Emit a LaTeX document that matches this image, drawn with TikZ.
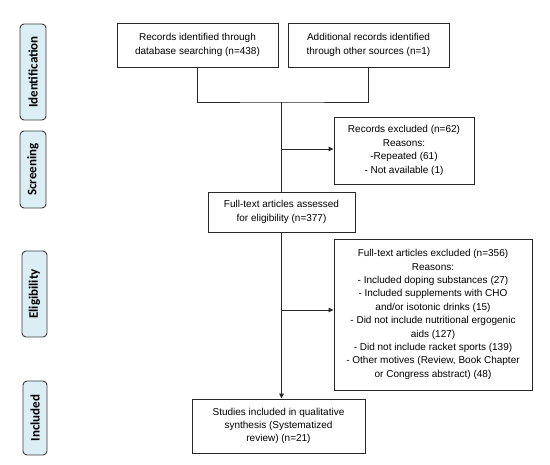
\documentclass[tikz,border=0pt]{standalone}
\usepackage{fontspec}
\setmainfont{Liberation Sans}
\newfontfamily\sidefont{Carlito}
\usetikzlibrary{arrows.meta}
\definecolor{sidefill}{RGB}{218,238,243}
\definecolor{sideline}{RGB}{60,60,60}
\definecolor{boxline}{RGB}{40,40,40}
\tikzset{
  flowbox/.style={draw=boxline, line width=0.9pt, fill=white, align=center, inner sep=2pt,
    font=\fontsize{10}{13.4}\selectfont},
  sidebox/.style={draw=sideline, line width=0.9pt, fill=sidefill, rounded corners=4pt,
    rotate=90, inner sep=0pt, font=\sidefont\bfseries\fontsize{13}{14}\selectfont},
  conn/.style={draw=boxline, line width=0.9pt},
  arr/.style={conn, -{Triangle[length=5pt,width=4.5pt]}}
}
\begin{document}
\begin{tikzpicture}[x=1pt,y=-1pt]
\useasboundingbox (0,0) rectangle (550,465);
% side labels
\node[sidebox, minimum width=96pt, minimum height=26pt] (sid) at (33,72) {Identification};
\node[sidebox, minimum width=77pt, minimum height=26pt] (ssc) at (33,169.5) {Screening};
\node[sidebox, minimum width=86pt, minimum height=25pt] (sel) at (34.5,294) {Eligibility};
\node[sidebox, minimum width=74pt, minimum height=24pt] (sin) at (35,418) {Included};
% boxes
\node[flowbox, minimum width=161pt, minimum height=44pt] (db) at (197.5,45)
  {Records identified through\\database searching (n=438)};
\node[flowbox, minimum width=161pt, minimum height=44pt] (other) at (368.5,45)
  {Additional records identified\\through other sources (n=1)};
\node[flowbox, minimum width=140pt, minimum height=67pt] (ex1) at (404,150.5)
  {Records excluded (n=62)\\Reasons:\\-Repeated (61)\\- Not available (1)};
\node[flowbox, minimum width=147pt, minimum height=40pt] (full) at (281.5,212)
  {Full-text articles assessed\\for eligibility (n=377)};
\node[flowbox, minimum width=198pt, minimum height=151pt] (ex2) at (433,314.5)
  {Full-text articles excluded (n=356)\\Reasons:\\- Included doping substances (27)\\- Included supplements with CHO\\and/or isotonic drinks (15)\\- Did not include nutritional ergogenic\\aids (127)\\- Did not include racket sports (139)\\- Other motives (Review, Book Chapter\\or Congress abstract) (48)};
\node[flowbox, minimum width=173pt, minimum height=54pt] (inc) at (278.5,426)
  {Studies included in qualitative\\synthesis (Systematized\\review) (n=21)};
% connectors
\coordinate (m) at (281.5,102);
\coordinate (a1) at (281.5,149);
\coordinate (a2) at (281.5,310);
\draw[conn] (db.south) |- (m) -| (other.south);
\draw[conn] (m) -- (full.north);
\draw[arr] (a1) -- (a1 -| ex1.west);
\draw[arr] (full.south) -- (full.south |- inc.north);
\draw[arr] (a2) -- (a2 -| ex2.west);
\end{tikzpicture}
\end{document}
